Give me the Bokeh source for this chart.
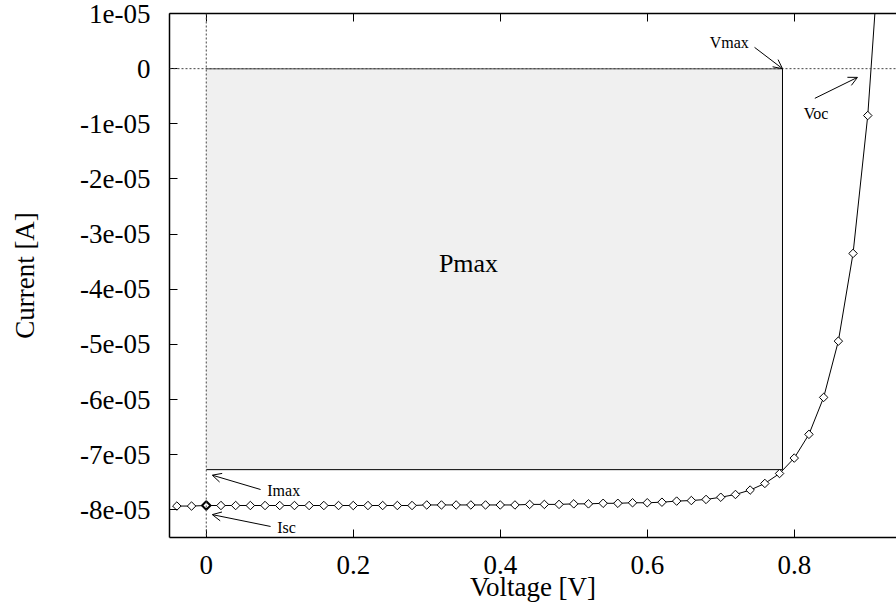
import math
from bokeh.plotting import figure
from bokeh.models import (Range1d, LinearAxis, FixedTicker, CustomJSTickFormatter,
                          Span, Arrow, OpenHead, Label)
from bokeh.embed import file_html
from bokeh.resources import INLINE

# ---------------- data ----------------
voltage = [-0.04, -0.02, 0.00, 0.02, 0.04, 0.06, 0.08, 0.10, 0.12, 0.14,
           0.16, 0.18, 0.20, 0.22, 0.24, 0.26, 0.28, 0.30, 0.32, 0.34,
           0.36, 0.38, 0.40, 0.42, 0.44, 0.46, 0.48, 0.50, 0.52, 0.54,
           0.56, 0.58, 0.60, 0.62, 0.64, 0.66, 0.68, 0.70, 0.72, 0.74,
           0.76, 0.78, 0.80, 0.82, 0.84, 0.86, 0.88, 0.90, 0.92]
current = [-7.93e-05, -7.93e-05, -7.92e-05, -7.92e-05, -7.92e-05, -7.92e-05, -7.92e-05, -7.92e-05, -7.92e-05, -7.92e-05,
           -7.92e-05, -7.92e-05, -7.92e-05, -7.92e-05, -7.92e-05, -7.92e-05, -7.92e-05, -7.91e-05, -7.91e-05, -7.91e-05,
           -7.91e-05, -7.91e-05, -7.91e-05, -7.91e-05, -7.90e-05, -7.90e-05, -7.90e-05, -7.89e-05, -7.89e-05, -7.88e-05,
           -7.88e-05, -7.87e-05, -7.87e-05, -7.86e-05, -7.84e-05, -7.83e-05, -7.81e-05, -7.77e-05, -7.72e-05, -7.64e-05,
           -7.52e-05, -7.34e-05, -7.06e-05, -6.63e-05, -5.96e-05, -4.94e-05, -3.35e-05, -0.85e-05, 2.96e-05]

v_max = 0.784
i_max = -7.27e-05
i_sc = -7.92e-05
v_oc = 0.903

x_ticks = [0.0, 0.2, 0.4, 0.6, 0.8]
x_tick_labels = ["0", "0.2", "0.4", "0.6", "0.8"]
y_ticks = [1e-05, 0.0, -1e-05, -2e-05, -3e-05, -4e-05, -5e-05, -6e-05, -7e-05, -8e-05]
y_tick_labels = ["1e-05", "0", "-1e-05", "-2e-05", "-3e-05", "-4e-05", "-5e-05", "-6e-05", "-7e-05", "-8e-05"]

# annotation texts: (text, x, y)
ann_labels = [("Vmax", 0.685, 0.48e-05), ("Voc", 0.813, -0.82e-05),
              ("Imax", 0.083, -7.645e-05), ("Isc", 0.0966, -8.31e-05)]
# arrows: (x_tail, y_tail, x_head, y_head)
ann_arrows = [(0.746, 0.386e-05, v_max, 0.0),
              (0.828, -0.538e-05, 0.886, -0.158e-05),
              (0.0739, -7.63e-05, 0.0082, -7.37e-05),
              (0.0875, -8.30e-05, 0.0082, -8.085e-05)]
pmax_pos = (0.3165, -3.53e-05)

# ---------------- figure ----------------
FONT = "Liberation Serif"
W, H = 896, 610
ML, MT, MB, MR = 169, 13, 73, 0
x_start = -0.05
x_end = x_start + (W - ML - MR) / 735.0

p = figure(width=W, height=H, output_backend="svg", toolbar_location=None,
           x_range=Range1d(x_start, x_end), y_range=Range1d(-8.5e-05, 1e-05),
           x_axis_label="Voltage [V]", y_axis_label="Current [A]",
           min_border_left=ML, min_border_top=MT, min_border_bottom=MB, min_border_right=MR)
p.outline_line_color = None
p.xgrid.visible = False
p.ygrid.visible = False
p.background_fill_color = "white"
p.border_fill_color = "white"

fmt_code = """
let best = 0; let d = Infinity;
for (let i = 0; i < tvals.length; i++) { const dd = Math.abs(tvals[i] - tick); if (dd < d) { d = dd; best = i; } }
return tlabels[best];
"""

xa = p.xaxis[0]
xa.ticker = FixedTicker(ticks=x_ticks)
xa.formatter = CustomJSTickFormatter(args=dict(tvals=x_ticks, tlabels=x_tick_labels), code=fmt_code)
ya = p.yaxis[0]
ya.ticker = FixedTicker(ticks=y_ticks)
ya.formatter = CustomJSTickFormatter(args=dict(tvals=y_ticks, tlabels=y_tick_labels), code=fmt_code)

for ax in (xa, ya):
    ax.major_tick_in = 8
    ax.major_tick_out = 0
    ax.minor_tick_line_color = None
    ax.axis_line_width = 1.5
    ax.axis_line_color = "black"
    ax.major_tick_line_color = "black"
    ax.major_label_text_font = FONT
    ax.major_label_text_font_size = "27px"
    ax.major_label_text_color = "black"
    ax.axis_label_text_font = FONT
    ax.axis_label_text_font_size = "27px"
    ax.axis_label_text_font_style = "normal"
    ax.axis_label_text_color = "black"

ya.major_label_standoff = 19
ya.axis_label_standoff = 37
xa.major_label_standoff = 18
xa.axis_label_standoff = -5

top = LinearAxis(ticker=FixedTicker(ticks=x_ticks),
                 formatter=CustomJSTickFormatter(code="return '';"))
top.major_tick_in = 8
top.major_tick_out = 0
top.minor_tick_line_color = None
top.axis_line_width = 1.5
top.major_label_text_font_size = "0px"
top.major_label_standoff = 0
p.add_layout(top, "above")

# Pmax rectangle
p.quad(left=[0.0], right=[v_max], top=[0.0], bottom=[i_max],
       fill_color="#f0f0f0", line_color=None)
p.segment(x0=[0.0], y0=[0.0], x1=[v_max], y1=[0.0], line_color="#888888", line_width=1.5)
p.segment(x0=[v_max, 0.0], y0=[0.0, i_max], x1=[v_max, v_max], y1=[i_max, i_max],
          line_color="black", line_width=1)

# zero axes
p.add_layout(Span(location=0, dimension="width", line_color="#444444",
                  line_dash="2 2", line_width=1))
p.add_layout(Span(location=0, dimension="height", line_color="#444444",
                  line_dash="2 2", line_width=1))

# curve
p.line(voltage, current, line_color="black", line_width=1)
p.scatter(voltage, current, marker="square", angle=math.pi / 4, size=6,
          fill_color="white", line_color="black", line_width=1)
p.scatter([0.0], [i_sc], marker="square", angle=math.pi / 4, size=6,
          fill_color="white", line_color="black", line_width=2)

# annotations
for (x0, y0, x1, y1) in ann_arrows:
    p.add_layout(Arrow(x_start=x0, y_start=y0, x_end=x1, y_end=y1,
                       line_color="black", line_width=1,
                       end=OpenHead(size=9, line_color="black", line_width=1)))
for (t, x, y) in ann_labels:
    p.add_layout(Label(x=x, y=y, text=t, text_font=FONT, text_font_size="16px",
                       text_color="black", text_align="left", text_baseline="alphabetic"))
p.add_layout(Label(x=pmax_pos[0], y=pmax_pos[1], text="Pmax", text_font=FONT,
                   text_font_size="26px", text_color="black", text_align="left",
                   text_baseline="alphabetic"))

open("out.html", "w").write(file_html(p, INLINE))
